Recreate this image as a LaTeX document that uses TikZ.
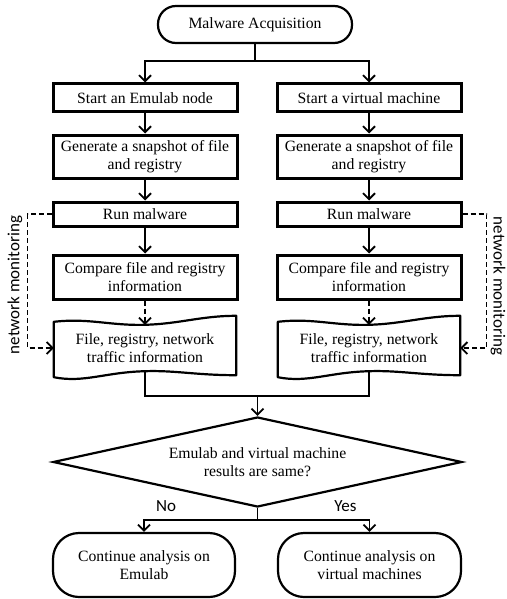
\documentclass[tikz,border=0pt]{standalone}
\usepackage{fontspec}
\setmainfont{Liberation Serif}
\newfontfamily\serifmain{Liberation Serif}
\newfontfamily\labelfont{Carlito}
\usetikzlibrary{arrows.meta,shapes.geometric,calc}
\newcommand\tapeshape[1]{%
  \draw[docline] ($(#1.north west)+(0,6)$)
    .. controls +(35,-4) and +(-35,1) .. ($(#1.north)+(0,9)$)
    .. controls +(35,-1) and +(-35,0) .. ($(#1.north east)+(0,0)$)
    -- ($(#1.south east)+(0,-5)$)
    .. controls +(-40,0) and +(30,-1) .. ($(#1.south)+(0,-9)$)
    .. controls +(-40,1) and +(30,6) .. ($(#1.south west)+(0,-3)$)
    -- cycle;}
\begin{document}
\begin{tikzpicture}[x=1pt,y=-1pt,
  every node/.style={font=\serifmain\fontsize{15.7}{18}\selectfont, align=center, text=black},
  box/.style={draw, line width=3pt, minimum width=184pt, inner sep=2pt},
  term/.style={draw, line width=2.2pt, rounded corners=#1, inner sep=2pt},
  docline/.style={line width=2.2pt, line join=round},
  conn/.style={line width=1.8pt},
  arr/.style={line width=1.8pt, -{Straight Barb[length=6pt,width=12pt]}},
  dasharr/.style={line width=1.8pt, dash pattern=on 5pt off 3pt, -{Straight Barb[length=6pt,width=12pt]}},
  lab/.style={font=\labelfont\fontsize{17}{20}\selectfont},
  doc/.style={minimum width=182pt, minimum height=64pt, inner sep=0pt}]
\useasboundingbox (0,0) rectangle (506,599);

% top terminator
\node[term=18pt, minimum width=194pt, minimum height=37pt] (top) at (255,24.5) {Malware Acquisition};

% left column
\node[box, minimum height=28pt] (l1) at (145,98) {Start an Emulab node};
\node[box, minimum height=43pt] (l2) at (145,156.5) {Generate a snapshot of file\\and registry};
\node[box, minimum height=24pt] (l3) at (145,214) {Run malware};
\node[box, minimum height=44pt] (l4) at (145,277) {Compare file and registry\\information};
\node[doc] (ld) at (145,348) {File, registry, network\\traffic information};
\tapeshape{ld}

% right column
\node[box, minimum height=28pt] (r1) at (369,98) {Start a virtual machine};
\node[box, minimum height=43pt] (r2) at (369,156.5) {Generate a snapshot of file\\and registry};
\node[box, minimum height=24pt] (r3) at (369,214) {Run malware};
\node[box, minimum height=44pt] (r4) at (369,277) {Compare file and registry\\information};
\node[doc] (rd) at (369,348) {File, registry, network\\traffic information};
\tapeshape{rd}

% decision
\node[draw, diamond, aspect=4.54, minimum width=409pt, minimum height=90pt, line width=2.2pt, inner sep=0pt] (dec) at (257.5,462) {Emulab and virtual machine\\results are same?};

% bottom terminators
\node[term=26pt, minimum width=182pt, minimum height=64pt] (le) at (144,565) {Continue analysis on\\Emulab};
\node[term=26pt, minimum width=183pt, minimum height=64pt] (re) at (369.5,565) {Continue analysis on\\virtual machines};

% labels
\node[lab] (no) at (166,506) {No};
\node[lab] (yes) at (345.5,506) {Yes};
\node[lab, rotate=90] (nml) at (15,285) {network monitoring};
\node[lab, rotate=-90] (nmr) at (498,286) {network monitoring};

% connectors top
\coordinate (tsplit) at (255,61);
\draw[conn] (top.south) -- (tsplit);
\draw[arr] (tsplit) -| (l1.north);
\draw[arr] (tsplit) -| (r1.north);

\draw[arr] (l1) -- (l2);
\draw[arr] (l2) -- (l3);
\draw[arr] (l3) -- (l4);
\draw[arr] (r1) -- (r2);
\draw[arr] (r2) -- (r3);
\draw[arr] (r3) -- (r4);

\coordinate (ldt) at ($(ld.north)+(0,9)$);
\coordinate (rdt) at ($(rd.north)+(0,9)$);
\draw[dasharr] (l4) -- (ldt);
\draw[dasharr] (r4) -- (rdt);

% network monitoring
\coordinate (nl) at ($(l3.west)+(-24,0)$);
\coordinate (nr) at ($(r3.east)+(24,0)$);
\draw[dasharr] (l3.west) -- (nl) |- (ld.west);
\draw[dasharr] (r3.east) -- (nr) |- (rd.east);

% join to decision
\coordinate (ldb) at ($(ld.south)+(0,-9)$);
\coordinate (rdb) at ($(rd.south)+(0,-9)$);
\coordinate (join) at (257.5,396);
\draw[conn] (ldb) -- (ldb |- join) -- (rdb |- join) -- (rdb);
\draw[arr] (join) -- (dec.north);

% decision to results
\coordinate (bsplit) at ($(dec.south)+(0,12)$);
\draw[conn] (dec.south) -- (bsplit);
\draw[arr] (bsplit) -| (le.north);
\draw[arr] (bsplit) -| (re.north);
\end{tikzpicture}
\end{document}
